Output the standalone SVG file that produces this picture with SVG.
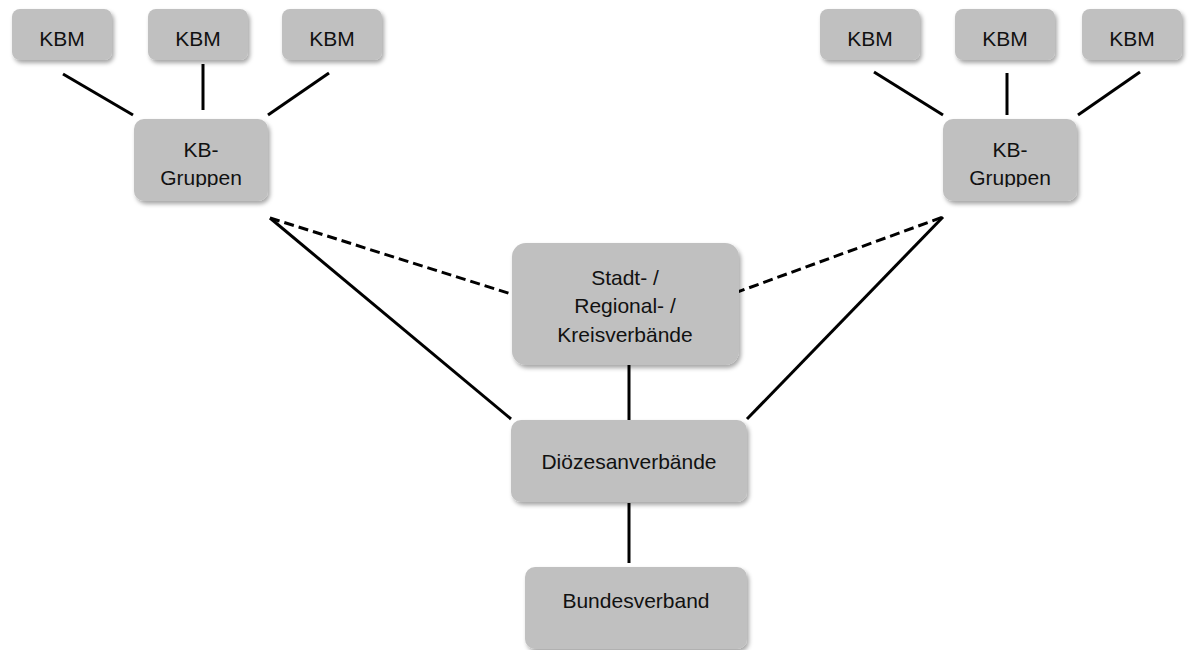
<svg xmlns="http://www.w3.org/2000/svg" width="1189" height="650" viewBox="0 0 1189 650">
<style>
.box{fill:#c0c0c0;filter:url(#sh)}
.t{font-family:"Liberation Sans",Arial,sans-serif;font-size:21px;fill:#111;text-anchor:middle}
.ln{stroke:#000;stroke-width:3;fill:none}
.dash{stroke-dasharray:10 5}
</style>
<defs>
<filter id="sh" x="-10%" y="-10%" width="130%" height="140%">
<feDropShadow dx="2" dy="3" stdDeviation="2" flood-color="#000" flood-opacity="0.35"/>
</filter>
<clipPath id="cl"><rect x="134" y="119" width="134" height="68"/></clipPath>
<clipPath id="cr"><rect x="943" y="119" width="134" height="68"/></clipPath>
</defs>
<rect width="1189" height="650" fill="#fff"/>
<g id="connectors">
<line class="ln" x1="63" y1="74" x2="133" y2="115"/>
<line class="ln" x1="203" y1="64" x2="203" y2="110"/>
<line class="ln" x1="329" y1="73" x2="268" y2="115"/>
<line class="ln" x1="874" y1="72" x2="943" y2="115"/>
<line class="ln" x1="1007" y1="73" x2="1007" y2="115"/>
<line class="ln" x1="1140" y1="72" x2="1078" y2="115"/>
<line class="ln dash" x1="270" y1="218" x2="527" y2="299"/>
<line class="ln" x1="270" y1="218" x2="511" y2="419"/>
<line class="ln dash" x1="721" y1="298" x2="943" y2="217"/>
<line class="ln" x1="747" y1="419" x2="943" y2="217"/>
<line class="ln" x1="629" y1="365" x2="629" y2="420"/>
<line class="ln" x1="629" y1="503" x2="629" y2="563"/>
</g>
<g id="kbm-l1"><rect class="box" x="12" y="9" width="100" height="51" rx="8"/><text class="t" x="62" y="46">KBM</text></g>
<g id="kbm-l2"><rect class="box" x="148" y="9" width="100" height="51" rx="8"/><text class="t" x="198" y="46">KBM</text></g>
<g id="kbm-l3"><rect class="box" x="282" y="9" width="100" height="51" rx="8"/><text class="t" x="332" y="46">KBM</text></g>
<g id="kbm-r1"><rect class="box" x="820" y="9" width="100" height="51" rx="8"/><text class="t" x="870" y="46">KBM</text></g>
<g id="kbm-r2"><rect class="box" x="955" y="9" width="100" height="51" rx="8"/><text class="t" x="1005" y="46">KBM</text></g>
<g id="kbm-r3"><rect class="box" x="1082" y="9" width="100" height="51" rx="8"/><text class="t" x="1132" y="46">KBM</text></g>
<g id="kbg-l"><rect class="box" x="134" y="119" width="134" height="82" rx="10"/>
<g clip-path="url(#cl)"><text class="t" x="201" y="157">KB-</text><text class="t" x="201" y="185">Gruppen</text></g></g>
<g id="kbg-r"><rect class="box" x="943" y="119" width="134" height="82" rx="10"/>
<g clip-path="url(#cr)"><text class="t" x="1010" y="157">KB-</text><text class="t" x="1010" y="185">Gruppen</text></g></g>
<g id="stadt"><rect class="box" x="512" y="243" width="227" height="122" rx="14"/>
<text class="t" x="625" y="285">Stadt- /</text><text class="t" x="625" y="313">Regional- /</text><text class="t" x="625" y="342">Kreisverbände</text></g>
<g id="dioezesan"><rect class="box" x="511" y="420" width="236" height="82" rx="10"/><text class="t" x="629" y="469">Diözesanverbände</text></g>
<g id="bund"><rect class="box" x="525" y="567" width="222" height="82" rx="10"/><text class="t" x="636" y="608">Bundesverband</text></g>
</svg>
